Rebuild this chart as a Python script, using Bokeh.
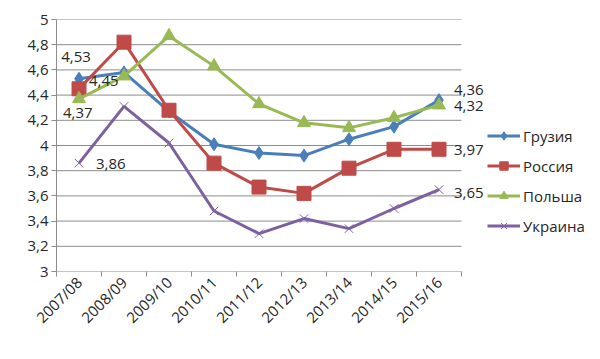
import math
from bokeh.plotting import figure
from bokeh.models import (ColumnDataSource, FixedTicker, CustomJSTickFormatter, Legend, LegendItem, Range1d)
from bokeh.core.properties import value
from bokeh.embed import file_html
from bokeh.resources import INLINE

seasons = ["2007/08", "2008/09", "2009/10", "2010/11", "2011/12", "2012/13", "2013/14", "2014/15", "2015/16"]
georgia = [4.53, 4.58, 4.27, 4.01, 3.94, 3.92, 4.05, 4.15, 4.36]
russia = [4.45, 4.82, 4.28, 3.86, 3.67, 3.62, 3.82, 3.97, 3.97]
poland = [4.37, 4.55, 4.87, 4.63, 4.33, 4.18, 4.14, 4.22, 4.32]
ukraine = [3.86, 4.31, 4.02, 3.48, 3.30, 3.42, 3.34, 3.50, 3.65]
series_names = ["Грузия", "Россия", "Польша", "Украина"]
y_ticks = [3.0, 3.2, 3.4, 3.6, 3.8, 4.0, 4.2, 4.4, 4.6, 4.8, 5.0]

FONT = "Open Sans"
FS = "15px"
TXT = "#262626"
GRID = "#8c8c8c"
n = len(seasons)
xs = [i + 0.5 for i in range(n)]

W, H = 584, 343
LEFT, TOP, BOTTOM = 56, 19, 72
PLOT_W = 405  # pixel width of the category area
x_end = n * (W - LEFT) / PLOT_W

p = figure(width=W, height=H, output_backend="svg", toolbar_location=None,
           x_range=Range1d(0, x_end), y_range=Range1d(3, 5),
           min_border_left=LEFT, min_border_top=TOP, min_border_bottom=BOTTOM, min_border_right=0)
p.outline_line_color = None
p.xgrid.grid_line_color = None
p.ygrid.grid_line_color = None

# horizontal gridlines limited to the category area
p.segment(x0=[0] * len(y_ticks), x1=[n] * len(y_ticks), y0=y_ticks, y1=y_ticks,
          line_color=GRID, line_width=1)

p.xaxis.ticker = FixedTicker(ticks=xs, minor_ticks=list(range(n + 1)))
p.xaxis.major_label_overrides = {x: s for x, s in zip(xs, seasons)}
p.xaxis.major_label_orientation = math.pi / 4
p.xaxis.major_tick_line_color = None
p.xaxis.minor_tick_line_color = GRID
p.xaxis.minor_tick_out = 5
p.xaxis.minor_tick_in = 0
p.xaxis.axis_line_color = None
p.xaxis.major_label_standoff = 2
p.yaxis.ticker = FixedTicker(ticks=y_ticks)
p.yaxis.formatter = CustomJSTickFormatter(code="return (Math.round(tick*10)/10).toString().replace('.', ',');")
p.yaxis.major_tick_out = 5
p.yaxis.major_tick_in = 0
p.yaxis.major_tick_line_color = GRID
p.yaxis.minor_tick_line_color = None
p.yaxis.axis_line_color = GRID
p.yaxis.major_label_standoff = 3
for ax in (p.xaxis, p.yaxis):
    ax.major_label_text_font = FONT
    ax.major_label_text_font_size = FS
    ax.major_label_text_color = TXT

colors = ["#4A7EBB", "#BE4B48", "#98B954", "#7D60A0"]
markers = ["diamond", "square", "triangle", "x"]
msizes = [13, 14, 13, 12]
data = [georgia, russia, poland, ukraine]
items = []
for name, vals, c, m, ms in zip(series_names, data, colors, markers, msizes):
    src = ColumnDataSource(dict(x=xs, y=vals))
    r1 = p.line("x", "y", source=src, line_color=c, line_width=3)
    if m == "x":
        r2 = p.scatter("x", "y", source=src, marker=m, size=ms, line_color=c, line_width=1)
    else:
        r2 = p.scatter("x", "y", source=src, marker=m, size=ms, fill_color=c, line_color=c)
    items.append(LegendItem(label=name, renderers=[r1, r2]))

def fmt(v):
    return ("%.2f" % v).replace(".", ",")

# first-point labels
first_vals = [georgia[0], russia[0], poland[0], ukraine[0]]
first_dx = [-3, 10, -16, 17]
first_dy = [-22, -8, 14, 1]
first_align = ["center", "left", "left", "left"]
for v, dx, dy, al in zip(first_vals, first_dx, first_dy, first_align):
    p.text(x=[xs[0]], y=[v], text=[fmt(v)], x_offset=dx, y_offset=dy,
           text_align=al, text_baseline="middle", text_font=value(FONT),
           text_font_size=FS, text_color=TXT)

# last-point labels
last_vals = [georgia[-1], poland[-1], russia[-1], ukraine[-1]]
last_dy = [-10, 1, 1, 3]
for v, dy in zip(last_vals, last_dy):
    p.text(x=[xs[-1]], y=[v], text=[fmt(v)], x_offset=15, y_offset=dy,
           text_align="left", text_baseline="middle", text_font=value(FONT),
           text_font_size=FS, text_color=TXT)

legend = Legend(items=items, location=(431, 35))
legend.border_line_color = None
legend.background_fill_alpha = 0
legend.label_text_font = FONT
legend.label_text_font_size = FS
legend.label_text_color = TXT
legend.glyph_width = 33
legend.glyph_height = 21
legend.label_height = 21
legend.spacing = 9
legend.label_standoff = 3
legend.padding = 0
legend.margin = 0
p.add_layout(legend, "center")

open("out.html", "w").write(file_html(p, INLINE))
